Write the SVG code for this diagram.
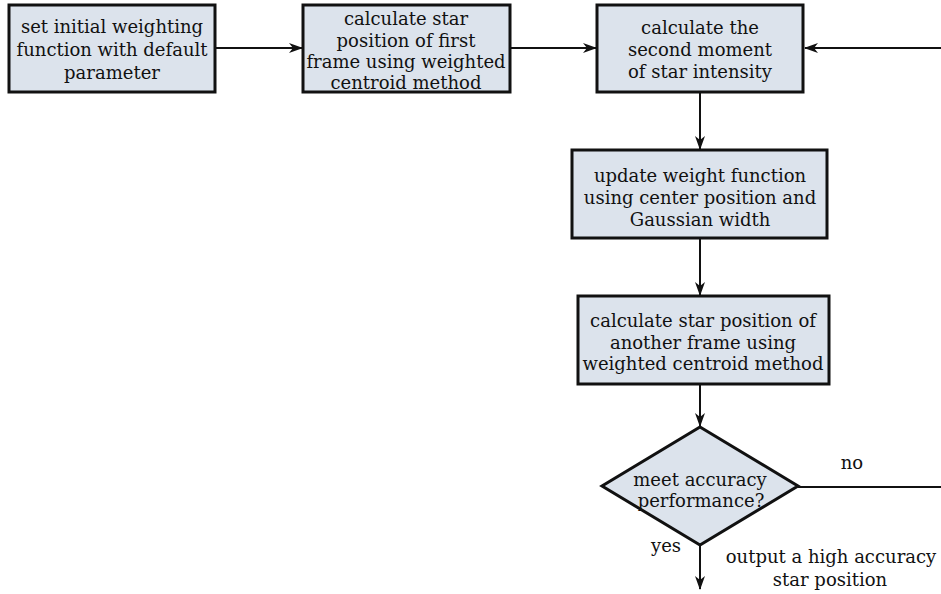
<svg xmlns="http://www.w3.org/2000/svg" width="941" height="594" viewBox="0 0 941 594">
<style>
.box{fill:#dce3ec;stroke:#111;stroke-width:3}
.t{font-family:'DejaVu Serif','Liberation Serif',serif;font-size:18px;fill:#111;text-anchor:middle}
.c{fill:none;stroke:#111;stroke-width:2}
</style>
<defs>
<marker id="ah" viewBox="0 0 14 10" refX="13" refY="5" markerWidth="14" markerHeight="10" markerUnits="userSpaceOnUse" orient="auto">
<path d="M0,0 L14,5 L0,10 L4,5 Z" fill="#111"/>
</marker>
</defs>
<rect width="941" height="594" fill="#fff"/>
<g id="connectors">
<line class="c" x1="216" y1="48" x2="302" y2="48" marker-end="url(#ah)"/>
<line class="c" x1="511" y1="48" x2="596" y2="48" marker-end="url(#ah)"/>
<line class="c" x1="941" y1="48" x2="805" y2="48" marker-end="url(#ah)"/>
<line class="c" x1="700" y1="93" x2="700" y2="149" marker-end="url(#ah)"/>
<line class="c" x1="700" y1="239" x2="700" y2="295" marker-end="url(#ah)"/>
<line class="c" x1="700" y1="385" x2="700" y2="426" marker-end="url(#ah)"/>
<polyline class="c" points="798,487 941,487"/>
<line class="c" x1="700" y1="545" x2="700" y2="589" marker-end="url(#ah)"/>
</g>
<g id="n1">
<rect class="box" x="9" y="5" width="206" height="87"/>
<text class="t" x="112" y="33">set initial weighting</text>
<text class="t" x="112" y="56">function with default</text>
<text class="t" x="112" y="79">parameter</text>
</g>
<g id="n2">
<rect class="box" x="303" y="5" width="207" height="87"/>
<text class="t" x="406" y="25">calculate star</text>
<text class="t" x="406" y="47">position of first</text>
<text class="t" x="406" y="68">frame using weighted</text>
<text class="t" x="406" y="89">centroid method</text>
</g>
<g id="n3">
<rect class="box" x="597" y="5" width="206" height="87"/>
<text class="t" x="700" y="34">calculate the</text>
<text class="t" x="700" y="56">second moment</text>
<text class="t" x="700" y="78">of star intensity</text>
</g>
<g id="n4">
<rect class="box" x="572" y="150" width="255" height="88"/>
<text class="t" x="700" y="182">update weight function</text>
<text class="t" x="700" y="204">using center position and</text>
<text class="t" x="700" y="226">Gaussian width</text>
</g>
<g id="n5">
<rect class="box" x="578" y="296" width="251" height="88"/>
<text class="t" x="703" y="327">calculate star position of</text>
<text class="t" x="703" y="349">another frame using</text>
<text class="t" x="703" y="370">weighted centroid method</text>
</g>
<g id="n6">
<polygon class="box" points="700,427 798,486 700,545 602,486"/>
<text class="t" x="700" y="486">meet accuracy</text>
<text class="t" x="701" y="507">performance?</text>
</g>
<g id="labels">
<text class="t" x="852" y="469">no</text>
<text class="t" x="666" y="552">yes</text>
<text class="t" x="831" y="563">output a high accuracy</text>
<text class="t" x="830" y="586">star position</text>
</g>
</svg>
